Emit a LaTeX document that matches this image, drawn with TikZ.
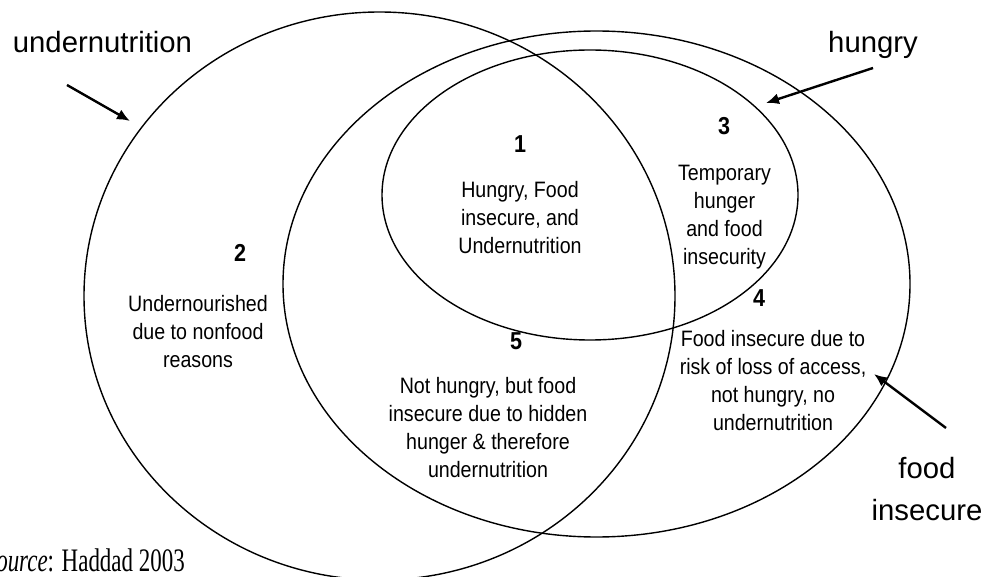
\documentclass[tikz,border=0pt]{standalone}
\usepackage{fontspec}
\setmainfont{Liberation Sans}
\newfontfamily\narrowfont[FakeStretch=0.88]{Liberation Sans}
\newfontfamily\srcfont[FakeStretch=0.7]{Liberation Serif}
\usetikzlibrary{arrows.meta}
\begin{document}
\begin{tikzpicture}[x=1pt,y=-1pt,
  setline/.style={line width=1.4pt},
  pointer/.style={line width=2.4pt,-{Latex[length=13pt,width=11pt]}},
  biglabel/.style={font=\fontsize{29.3}{42}\selectfont, inner sep=0pt, anchor=base, align=center},
  regnum/.style={font=\narrowfont\bfseries\fontsize{24.5}{28}\selectfont, inner sep=0pt, anchor=base},
  regtext/.style={font=\narrowfont\fontsize{22.3}{28}\selectfont, inner sep=0pt, anchor=base, align=center},
]
\useasboundingbox (0,0) rectangle (985,577);
\begin{scope}
  \clip (0,0) rectangle (985,577);
  \draw[setline] (379.5,296) ellipse [x radius=295.5, y radius=284];
  \draw[setline] (596.5,284) ellipse [x radius=313.5, y radius=253];
  \draw[setline] (590,195) ellipse [x radius=208, y radius=145];
\end{scope}

% outer labels
\node[biglabel, anchor=base west] (lunder) at (12.7,53) {undernutrition};
\node[biglabel, anchor=base west] (lhungry) at (828,53) {hungry};
\node[biglabel] (lfood) at (927,520) {food\\insecure};

% pointers
\coordinate (uA) at (67,85);   \coordinate (uB) at (130,121);
\coordinate (hA) at (873,68);  \coordinate (hB) at (766,103);
\coordinate (fA) at (946,428); \coordinate (fB) at (874,374);
\draw[pointer] (uA) -- (uB);
\draw[pointer] (hA) -- (hB);
\draw[pointer] (fA) -- (fB);

% region 1
\node[regnum] (n1) at (520,153) {1};
\node[regtext] (t1) at (520,254) {Hungry, Food\\insecure, and\\Undernutrition};
% region 2
\node[regnum] (n2) at (240,262) {2};
\node[regtext] (t2) at (198,367) {Undernourished\\due to nonfood\\reasons};
% region 3
\node[regnum] (n3) at (724,135) {3};
\node[regtext] (t3) at (724.5,265) {Temporary\\hunger\\and food\\insecurity};
% region 4
\node[regnum] (n4) at (759,307) {4};
\node[regtext] (t4) at (773,430) {Food insecure due to\\risk of loss of access,\\not hungry, no\\undernutrition};
% region 5
\node[regnum] (n5) at (516,349) {5};
\node[regtext] (t5) at (488,477) {Not hungry, but food\\insecure due to hidden\\hunger \& therefore\\undernutrition};

% source
\node[inner sep=0pt, anchor=base east, font=\srcfont\fontsize{32.8}{36}\selectfont] (src) at (185,571.7) {\textit{Source}: Haddad 2003};
\end{tikzpicture}
\end{document}
